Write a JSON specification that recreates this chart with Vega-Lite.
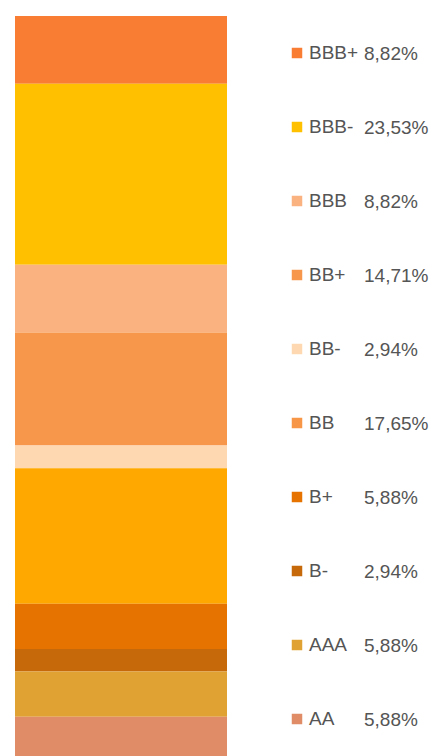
{
  "$schema": "https://vega.github.io/schema/vega-lite/v6.json",
  "padding": {"left": 15, "top": 16, "right": 0, "bottom": 0},
  "background": "white",
  "config": {
    "view": {"stroke": null},
    "locale": {"number": {"decimal": ",", "thousands": ".", "grouping": [3], "currency": ["", " €"]}},
    "font": "Liberation Sans"
  },
  "data": {
    "values": [
      {"rating": "BBB+", "share": 0.0882, "idx": 1, "series": "Rating"},
      {"rating": "BBB-", "share": 0.2353, "idx": 2, "series": "Rating"},
      {"rating": "BBB", "share": 0.0882, "idx": 3, "series": "Rating"},
      {"rating": "BB+", "share": 0.1471, "idx": 4, "series": "Rating"},
      {"rating": "BB-", "share": 0.0294, "idx": 5, "series": "Rating"},
      {"rating": "BB", "share": 0.1765, "idx": 6, "series": "Rating"},
      {"rating": "B+", "share": 0.0588, "idx": 7, "series": "Rating"},
      {"rating": "B-", "share": 0.0294, "idx": 8, "series": "Rating"},
      {"rating": "AAA", "share": 0.0588, "idx": 9, "series": "Rating"},
      {"rating": "AA", "share": 0.0588, "idx": 10, "series": "Rating"}
    ]
  },
  "spacing": 60,
  "resolve": {"scale": {"color": "independent"}},
  "hconcat": [
    {
      "width": 212,
      "height": 740,
      "mark": {"type": "bar", "clip": true},
      "encoding": {
        "x": {"field": "series", "type": "nominal", "axis": null, "scale": {"paddingInner": 0, "paddingOuter": 0}},
        "y": {"field": "share", "type": "quantitative", "stack": "zero", "axis": null,
              "scale": {"domain": [0, 0.9627], "reverse": true, "nice": false, "zero": true}},
        "order": {"field": "idx", "type": "quantitative", "sort": "ascending"},
        "color": {"field": "rating", "type": "nominal", "legend": null,
                  "scale": {"domain": ["BBB+", "BBB-", "BBB", "BB+", "BB-", "BB", "B+", "B-", "AAA", "AA"],
                            "range": ["#F97D32", "#FFC000", "#F9B280", "#F7974B", "#FDD8B1", "#FFA800", "#E67300", "#C6690B", "#E0A333", "#E08C66"]}},
        "tooltip": [{"field": "rating"}, {"field": "share", "format": ".2%"}]
      }
    },
    {
      "width": 148,
      "height": 740,
      "encoding": {
        "y": {"field": "rating", "type": "nominal", "axis": null,
              "scale": {"type": "point", "padding": 0.5, "domain": ["BBB+", "BBB-", "BBB", "BB+", "BB-", "BB", "B+", "B-", "AAA", "AA"]}}
      },
      "layer": [
        {
          "mark": {"type": "point", "shape": "square", "filled": true, "size": 110, "opacity": 1},
          "encoding": {
            "x": {"datum": 10, "type": "quantitative", "axis": null, "scale": {"domain": [0, 148], "nice": false, "zero": true}},
            "color": {"field": "rating", "type": "nominal", "legend": null,
                      "scale": {"domain": ["BBB+", "BBB-", "BBB", "BB+", "BB-", "BB", "B+", "B-", "AAA", "AA"],
                                "range": ["#F97D32", "#FFC000", "#F9B280", "#F7974B", "#FDD8B1", "#F79646", "#E67300", "#C6690B", "#E0A333", "#E08C66"]}}
          }
        },
        {
          "mark": {"type": "text", "align": "left", "baseline": "middle", "fontSize": 19, "color": "#555555"},
          "encoding": {
            "x": {"datum": 22, "type": "quantitative"},
            "text": {"field": "rating"}
          }
        },
        {
          "mark": {"type": "text", "align": "left", "baseline": "middle", "fontSize": 19, "color": "#555555", "dy": 1},
          "encoding": {
            "x": {"datum": 77, "type": "quantitative"},
            "text": {"field": "share", "type": "quantitative", "format": ".2%"}
          }
        }
      ]
    }
  ]
}
